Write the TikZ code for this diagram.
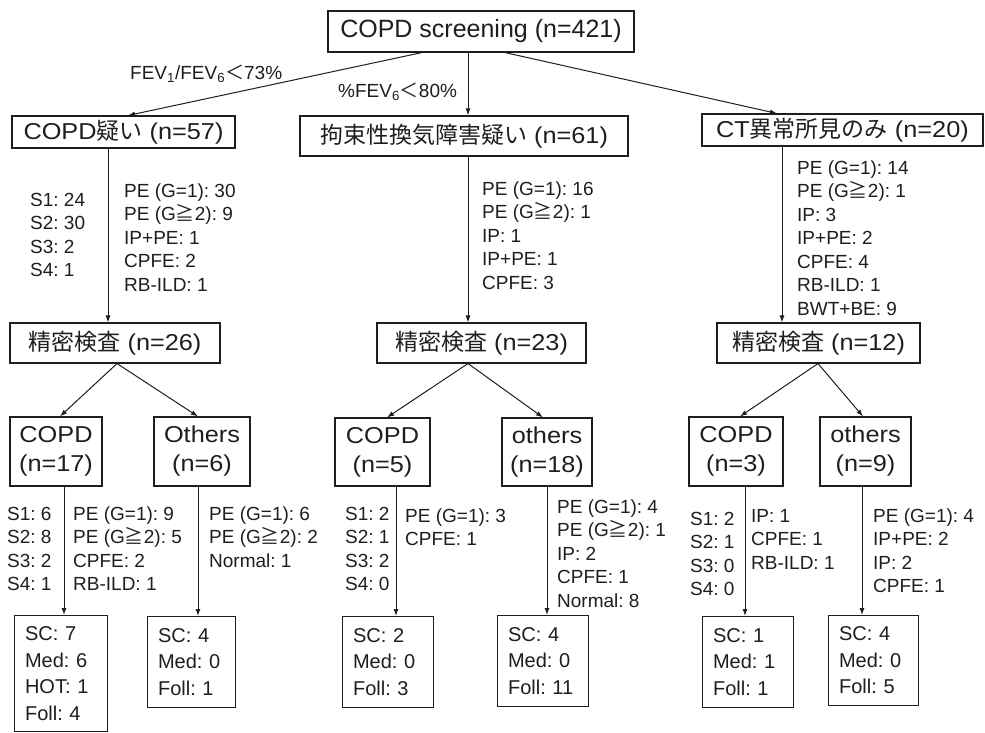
\documentclass[tikz,border=0pt]{standalone}
\usepackage{fontspec}
\setmainfont{Liberation Sans}
\newfontfamily\boxlat{Liberation Sans}[FakeStretch=1.1]
\newfontfamily\cjk{Noto Sans CJK JP}
\usetikzlibrary{arrows.meta}
\definecolor{ink}{HTML}{1E1E1E}
\frenchspacing
\newcommand{\stk}[1]{\begin{tabular}[t]{@{}l@{}}#1\end{tabular}}
\newcommand{\Gge}{{\cjk ≧}}
\tikzset{
  box/.style={draw=ink, line width=1.1pt, inner sep=0pt, text=ink},
  bigtxt/.style={font=\boxlat\fontsize{23}{29}\selectfont},
  lab/.style={anchor=base west, inner sep=0pt, text=ink, font=\fontsize{19}{23.5}\selectfont},
  res/.style={box, anchor=north west, align=left, inner xsep=10.5pt, font=\fontsize{20}{26.5}\selectfont},
  arr/.style={draw=ink, line width=1pt, -{Latex[length=7pt,width=5pt]}},
}
\begin{document}
\begin{tikzpicture}[x=1pt,y=-1pt]
\useasboundingbox (0,0) rectangle (985,732);
% top
\node[box, font=\fontsize{25}{30}\selectfont, minimum width=306pt, minimum height=41pt] (top) at (481,31.5) {COPD screening (n=421)};
% row 2
\node[box, bigtxt, minimum width=223pt, minimum height=32pt] (r2a) at (123.5,132) {COPD{\cjk 疑い} (n=57)};
\node[box, bigtxt, minimum width=328pt, minimum height=40pt] (r2b) at (464,136) {{\cjk 拘束性換気障害疑い} (n=61)};
\node[box, bigtxt, minimum width=281pt, minimum height=32pt] (r2c) at (842.5,130) {CT{\cjk 異常所見のみ} (n=20)};
% conditions
\node[lab] (cond1) at (130,79) {FEV\textsubscript{1}/FEV\textsubscript{6}{\cjk ＜}73\%};
\node[lab] (cond2) at (338,97) {\%FEV\textsubscript{6}{\cjk ＜}80\%};
\draw[arr] (top.south -| 422,0) -- (r2a.north -| 128,0);
\draw[arr] (top.south -| 468,0) -- (r2b.north -| 468,0);
\draw[arr] (top.south -| 505,0) -- (r2c.north -| 777,0);
% row 3
\node[box, bigtxt, minimum width=210pt, minimum height=40pt] (p1) at (115,343) {{\cjk 精密検査} (n=26)};
\node[box, bigtxt, minimum width=209pt, minimum height=40pt] (p2) at (481.5,343) {{\cjk 精密検査} (n=23)};
\node[box, bigtxt, minimum width=203pt, minimum height=40pt] (p3) at (818.5,343) {{\cjk 精密検査} (n=12)};
\draw[arr] (r2a.south -| 108,0) -- (p1.north -| 108,0);
\draw[arr] (r2b.south -| 468,0) -- (p2.north -| 468,0);
\draw[arr] (r2c.south -| 782,0) -- (p3.north -| 782,0);
\node[lab] (la1) at (30,206) {\stk{S1: 24\\S2: 30\\S3: 2\\S4: 1}};
\node[lab] (la2) at (124,197) {\stk{PE (G=1): 30\\PE (G\Gge 2): 9\\IP+PE: 1\\CPFE: 2\\RB-ILD: 1}};
\node[lab] (lb1) at (482,195) {\stk{PE (G=1): 16\\PE (G\Gge 2): 1\\IP: 1\\IP+PE: 1\\CPFE: 3}};
\node[lab] (lc1) at (797,174) {\stk{PE (G=1): 14\\PE (G\Gge 2): 1\\IP: 3\\IP+PE: 2\\CPFE: 4\\RB-ILD: 1\\BWT+BE: 9}};
% row 4
\node[box, bigtxt, align=center, minimum width=92pt, minimum height=69pt] (c1) at (56,451.5) {COPD\\(n=17)};
\node[box, bigtxt, align=center, minimum width=96pt, minimum height=69pt] (o1) at (202,451.5) {Others\\(n=6)};
\node[box, bigtxt, align=center, minimum width=95pt, minimum height=68pt] (c2) at (382.5,452) {COPD\\(n=5)};
\node[box, bigtxt, align=center, minimum width=90pt, minimum height=68pt] (o2) at (547,452) {others\\(n=18)};
\node[box, bigtxt, align=center, minimum width=94pt, minimum height=69pt] (c3) at (736,451.5) {COPD\\(n=3)};
\node[box, bigtxt, align=center, minimum width=91pt, minimum height=69pt] (o3) at (865.5,451.5) {others\\(n=9)};
\draw[arr] (p1.south -| 117,0) -- (c1.north -| 60,0);
\draw[arr] (p1.south -| 117,0) -- (o1.north -| 198,0);
\draw[arr] (p2.south -| 468,0) -- (c2.north -| 387,0);
\draw[arr] (p2.south -| 468,0) -- (o2.north -| 543,0);
\draw[arr] (p3.south -| 818,0) -- (c3.north -| 740,0);
\draw[arr] (p3.south -| 818,0) -- (o3.north -| 863,0);
% row 4 labels
\node[lab] (m1) at (7,520) {\stk{S1: 6\\S2: 8\\S3: 2\\S4: 1}};
\node[lab] (m2) at (73,520) {\stk{PE (G=1): 9\\PE (G\Gge 2): 5\\CPFE: 2\\RB-ILD: 1}};
\node[lab] (m3) at (209,520) {\stk{PE (G=1): 6\\PE (G\Gge 2): 2\\Normal: 1}};
\node[lab] (m4) at (345,520) {\stk{S1: 2\\S2: 1\\S3: 2\\S4: 0}};
\node[lab] (m5) at (405,522) {\stk{PE (G=1): 3\\CPFE: 1}};
\node[lab] (m6) at (557,513) {\stk{PE (G=1): 4\\PE (G\Gge 2): 1\\IP: 2\\CPFE: 1\\Normal: 8}};
\node[lab] (m7) at (690,525) {\stk{S1: 2\\S2: 1\\S3: 0\\S4: 0}};
\node[lab] (m8) at (751,522) {\stk{IP: 1\\CPFE: 1\\RB-ILD: 1}};
\node[lab] (m9) at (873,522) {\stk{PE (G=1): 4\\IP+PE: 2\\IP: 2\\CPFE: 1}};
% row 5
\node[res, text width=72pt, minimum height=116pt] (s1) at (14,615) {SC: 7\\Med: 6\\HOT: 1\\Foll: 4};
\node[res, text width=67pt, minimum height=91pt] (s2) at (147,616) {SC: 4\\Med: 0\\Foll: 1};
\node[res, text width=70pt, minimum height=91pt] (s3) at (342,616) {SC: 2\\Med: 0\\Foll: 3};
\node[res, text width=70pt, minimum height=91pt] (s4) at (497,615) {SC: 4\\Med: 0\\Foll: 11};
\node[res, text width=70pt, minimum height=91pt] (s5) at (702,616) {SC: 1\\Med: 1\\Foll: 1};
\node[res, text width=69pt, minimum height=90pt] (s6) at (828,615) {SC: 4\\Med: 0\\Foll: 5};
\draw[arr] (c1.south -| 64,0) -- (s1.north -| 64,0);
\draw[arr] (o1.south -| 198,0) -- (s2.north -| 198,0);
\draw[arr] (c2.south -| 396,0) -- (s3.north -| 396,0);
\draw[arr] (o2.south -| 547,0) -- (s4.north -| 547,0);
\draw[arr] (c3.south -| 745,0) -- (s5.north -| 745,0);
\draw[arr] (o3.south -| 862,0) -- (s6.north -| 862,0);
\end{tikzpicture}
\end{document}
